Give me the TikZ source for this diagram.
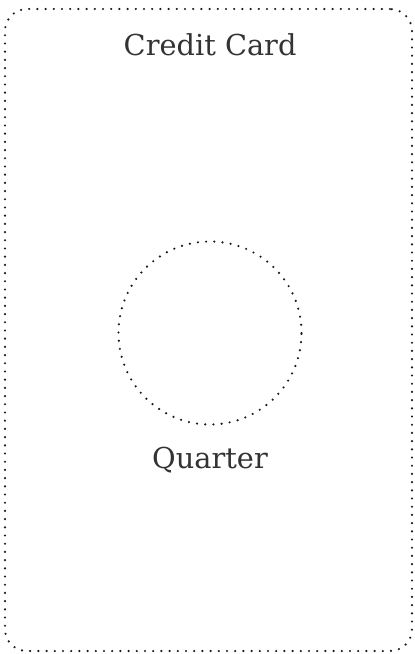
\documentclass[tikz,border=0pt]{standalone}
\usepackage{fontspec}
\setmainfont{DejaVu Serif}
\usepackage{tikz}
\usetikzlibrary{positioning}

\begin{document}
\begin{tikzpicture}[
    node distance=0.55cm,
    dots/.style={draw=black!90, line width=0.06cm, line cap=round,
                 dash pattern=on 0pt off 0.205cm},
    card/.style={dots, rectangle, rounded corners=0.55cm,
                 minimum width=10.175cm, minimum height=16.05cm,
                 inner sep=0pt, outer sep=0pt},
    coin/.style={dots, circle, minimum size=4.575cm,
                 inner sep=0pt, outer sep=0pt},
    caption/.style={inner sep=0pt, text=black!80,
                    font=\fontsize{20.5}{25}\selectfont}
]
    \useasboundingbox (0,0) rectangle (10.375,-16.35);

    \node[card] (card) at (5.2125,-8.25) {};
    \node[coin] (quarter) at (5.25,-8.325) {};

    \node[caption] (cardtext) [below=0.6cm of card.north, xshift=0.04cm] {Credit Card};
    \node[caption] (quartertext) [below=of quarter] {Quarter};
\end{tikzpicture}
\end{document}
